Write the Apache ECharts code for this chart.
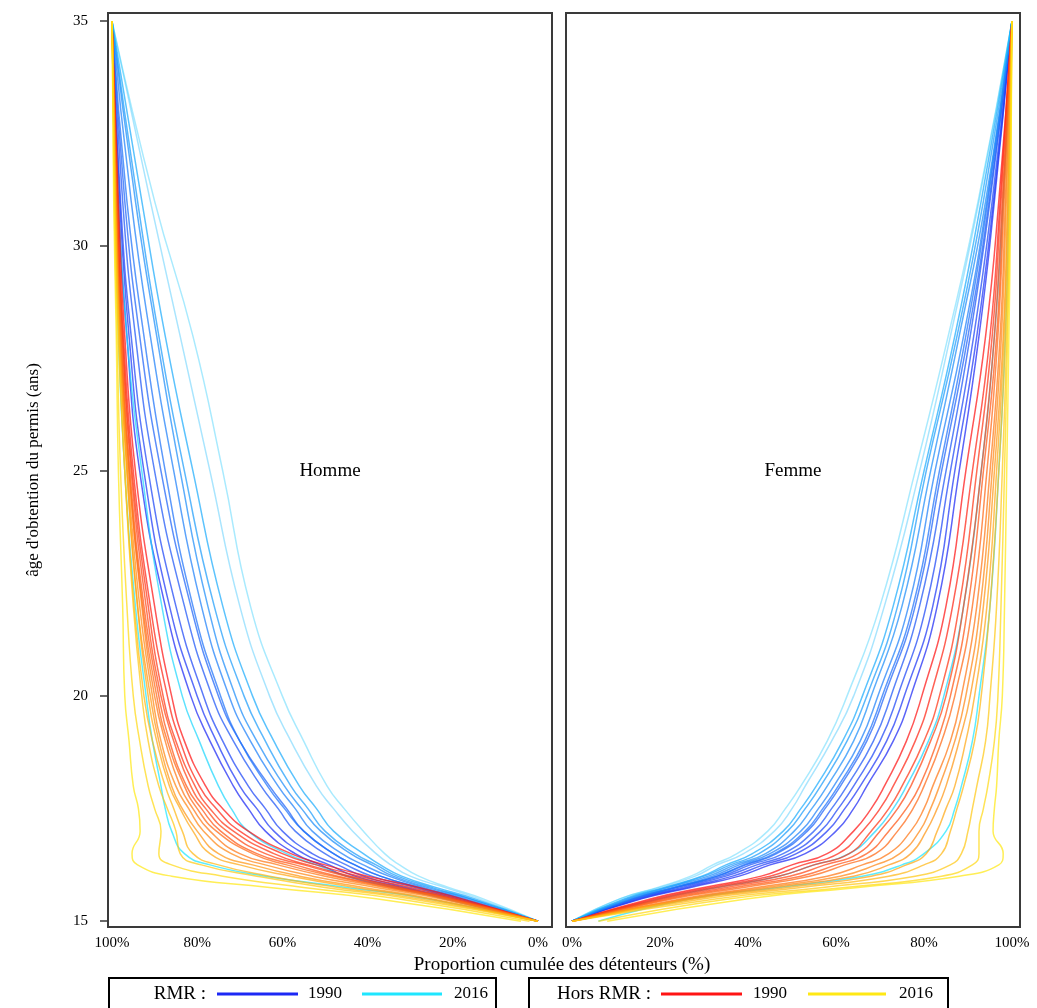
<!DOCTYPE html>
<html><head><meta charset="utf-8">
<script src="https://cdn.jsdelivr.net/npm/echarts@6/dist/echarts.min.js"></script>
<style>html,body{margin:0;padding:0;background:#fff}#c{width:1037px;height:1008px}</style>
</head><body><div id="c"></div>
<script>
// ---------- DATA ----------
const AGES = [15, 15.5, 15.75, 16, 16.25, 16.5, 17, 17.5, 18, 19, 20, 22, 25, 28, 31, 35];
const YEARS = [1990, 1992, 1994, 1996, 1998, 2000, 2002, 2004, 2006, 2008, 2010, 2012, 2014, 2016];
const X_TICKS = [0, 20, 40, 60, 80, 100];
const Y_TICKS = [15, 20, 25, 30, 35];

// Homme, RMR (cumulative % of licence holders at each age)
const hommeRMR = [
  [0, 22, 34, 45, 51, 57, 64, 68, 71.5, 77, 81.5, 87.5, 93.5, 96.5, 98.5, 100],
  [0, 21, 32, 43, 49, 55, 62, 66, 70, 75.5, 80, 86.5, 92.5, 96, 98.2, 100],
  [0, 20, 31, 41, 47, 53, 60, 64, 68, 74, 78.5, 85, 91.5, 95.5, 98, 100],
  [0, 19, 29, 39, 45, 50, 57, 61, 65, 71.5, 76.5, 83, 90, 94.5, 97.5, 100],
  [0, 18, 28, 37, 43, 48, 55, 59, 63, 70, 75, 81.5, 88.5, 93.5, 97, 100],
  [0, 18, 28, 37, 43, 48, 55, 59.5, 63.5, 70, 74.5, 81, 87.5, 92.5, 96.5, 100],
  [0, 17, 27, 35, 41, 46, 53, 57, 61, 67.5, 72.5, 79, 85.5, 91, 95.5, 100],
  [0, 16, 26, 34, 39, 44, 51, 55.5, 59.5, 66, 71, 77.5, 84, 89.5, 94.5, 100],
  [0, 16, 25, 33, 38, 43, 50, 54, 58, 64, 69, 76, 83, 89, 94, 100],
  [0, 15, 24, 32, 37, 41, 48, 52, 56, 62, 67, 74, 81, 87.5, 93, 100],
  [0, 14, 22, 30, 34.5, 38, 43.5, 48, 52, 58, 63, 70, 77, 84, 91, 100],
  [0, 13, 21, 28, 32.5, 36, 41, 45.5, 49.5, 55, 60, 67.5, 74, 81, 90, 100],
  [0, 20, 33, 45, 52, 59, 68, 72, 75, 79.5, 83.5, 88.3, 93, 96.5, 98.5, 100],
  [0, 26, 45, 64, 77, 83, 86, 87.5, 88.5, 90.5, 92, 94.5, 97, 98.5, 99.3, 100]
];
// Homme, Hors RMR
const hommeHors = [
  [0, 18, 28, 40, 50, 58, 68, 74, 78, 83, 86, 90, 94.5, 97, 98.5, 100],
  [0, 19, 30, 42, 52, 60, 70, 75.5, 79.5, 84, 87, 91, 95, 97.3, 98.7, 100],
  [0, 20, 32, 44, 54, 62, 71.5, 77, 80.5, 85, 88, 91.5, 95.3, 97.5, 98.8, 100],
  [0, 20, 33, 45, 55, 64, 73, 78, 81.5, 85.5, 88.5, 92, 95.5, 97.6, 98.8, 100],
  [0, 21, 34, 47, 57, 66, 74.5, 79, 82.5, 86.5, 89, 92.5, 95.8, 97.8, 98.9, 100],
  [0, 21, 35, 48, 59, 67, 75.5, 80, 83, 87, 89.5, 92.8, 96, 97.9, 99, 100],
  [0, 22, 36, 50, 61, 70, 77, 81, 84, 87.5, 90, 93, 96, 98, 99, 100],
  [0, 23, 38, 53, 64, 72, 78.5, 82, 85, 88.5, 90.5, 93.5, 96.3, 98.1, 99.1, 100],
  [0, 25, 41, 56, 67, 75, 80, 83.5, 86, 89, 91, 94, 96.5, 98.2, 99.2, 100],
  [0, 26, 43, 58, 70, 77, 81, 84, 86.5, 89.5, 91.5, 94, 96.5, 98.3, 99.2, 100],
  [0, 28, 47, 63, 75, 81, 83.5, 85.5, 87.5, 90.5, 92.5, 94.8, 97, 98.4, 99.3, 100],
  [0, 30, 50, 66, 79, 84, 85, 87, 89, 91.5, 93, 95, 97, 98.5, 99.3, 100],
  [2, 33, 55, 74, 86, 89, 88.5, 90, 91.5, 93.5, 95, 96.5, 98, 98.8, 99.5, 100],
  [4, 38, 63, 86, 94, 95.3, 93.4, 93.8, 95, 96, 97, 97.5, 98.5, 99, 99.6, 100]
];
// Femme, RMR
const femmeRMR = [
  [0, 16, 27, 38, 45, 53, 60, 64, 67, 73, 77, 83, 88, 92.5, 96, 100],
  [0, 15.5, 26, 36.5, 43.5, 51, 58, 62, 65.5, 71.5, 75.5, 82, 87, 92, 95.8, 100],
  [0, 15, 25, 35, 42, 49.5, 56.5, 60.5, 64, 70, 74, 80.5, 86, 91.3, 95.5, 100],
  [0, 14.5, 24, 34, 40.5, 48, 55, 59, 62.5, 68.5, 72.5, 79, 85, 90.5, 95, 100],
  [0, 14, 23.5, 33, 39.5, 46.5, 53.5, 57.5, 61, 67, 71, 78, 84, 90, 94.8, 100],
  [0, 14, 23.5, 33, 39, 46, 53, 57, 60.5, 66.5, 70.5, 77.5, 83.5, 89.5, 94.5, 100],
  [0, 13.5, 23, 32, 38, 45, 52, 56, 59.5, 65.5, 69.5, 76.5, 82.5, 89, 94.3, 100],
  [0, 13, 22, 31, 37, 44, 50.5, 54.5, 58, 64, 68, 75, 81.5, 88, 94, 100],
  [0, 12.5, 21.5, 30, 36, 42.5, 49, 53, 56.5, 62.5, 67, 74, 80.5, 87.5, 93.5, 100],
  [0, 12, 21, 29.5, 35, 41, 48, 52, 55.5, 61.5, 66, 73, 80, 87, 93, 100],
  [0, 11, 20, 28, 33, 39, 46, 50, 53, 59, 64, 71, 79, 86, 92.5, 100],
  [0, 11, 19.5, 27, 32, 37.5, 44.5, 48.5, 52, 58, 62.5, 70, 78, 85.5, 92.3, 100],
  [0, 20, 33, 47, 55, 63, 69, 73, 76, 81, 84.5, 89, 93, 96, 98, 100],
  [6, 27, 47, 66, 75, 80, 85, 87, 88.5, 91, 92.5, 95, 97, 98.5, 99.3, 100]
];
// Femme, Hors RMR
const femmeHors = [
  [0, 18, 30, 43, 50, 58, 64, 68, 71, 76, 79.5, 85, 89.5, 94, 97, 100],
  [0, 19, 31.5, 45, 52.5, 60.5, 66, 70, 73, 78, 81.5, 86.5, 91, 95, 97.3, 100],
  [0, 20, 33, 47, 55, 63, 68, 72, 75, 80, 83.5, 88, 92, 95.5, 97.5, 100],
  [0, 21, 35, 49.5, 57.5, 65, 70, 74, 77, 81.5, 85, 89, 93, 96, 97.8, 100],
  [0, 22, 37, 52, 60, 67, 72, 76, 79, 83, 86, 90, 93.5, 96.5, 98, 100],
  [0, 23, 39, 54, 62, 69, 74, 77.5, 80, 84, 87, 91, 94.3, 96.8, 98.2, 100],
  [0, 25, 42, 58, 66, 72, 77, 80, 82, 86, 88.5, 92, 95, 97.3, 98.5, 100],
  [0, 26, 44, 61, 69, 74.5, 79, 81.5, 83.5, 87, 89.5, 92.8, 95.5, 97.6, 98.7, 100],
  [0, 27, 46, 64, 72, 77, 80.5, 83, 85, 88, 90.5, 93.5, 96, 98, 99, 100],
  [0, 28, 49, 68, 76, 80.5, 83, 85, 87, 89.5, 91.5, 94.3, 96.5, 98.2, 99.1, 100],
  [0, 30, 52, 72, 80, 84, 86, 87.5, 89, 91.5, 93, 95, 97, 98.5, 99.3, 100],
  [0, 33, 57, 78, 86, 88.5, 90, 91, 92, 94, 95, 96.5, 97.8, 98.8, 99.5, 100],
  [6, 36, 62, 84, 91, 92.5, 92.5, 93.5, 94.5, 96, 96.8, 97.5, 98.3, 99, 99.6, 100],
  [8, 40, 65, 88, 97, 98, 95.7, 96, 96.5, 97, 97.8, 98.3, 98.8, 99.3, 99.7, 100]
];

// ---------- STYLE ----------
const FONT = 'Liberation Serif';
const C_BLUE = [28, 40, 245], C_CYAN = [30, 230, 255];
const C_RED = [255, 20, 20], C_YELLOW = [255, 232, 20];
function mix(a, b, t) {
  return 'rgb(' + a.map((v, k) => Math.round(v + (b[k] - v) * t)).join(',') + ')';
}
const rgb = c => 'rgb(' + c.join(',') + ')';

const series = [];
function addGroup(curves, gridIdx, c0, c1, label, paleIdx) {
  curves.forEach((vals, i) => {
    const t = i / (curves.length - 1);
    series.push({
      type: 'line',
      name: label + ' ' + YEARS[i],
      xAxisIndex: gridIdx, yAxisIndex: gridIdx,
      data: AGES.map((a, k) => [vals[k], a]),
      showSymbol: false, smooth: 0.5,
      lineStyle: { width: 1.5, color: mix(c0, c1, t), opacity: paleIdx.includes(i) ? 0.38 : 0.72 },
      emphasis: { disabled: true },
      silent: true
    });
  });
}
addGroup(hommeRMR, 0, C_BLUE, C_CYAN, 'RMR', [10, 11]);
addGroup(hommeHors, 0, C_RED, C_YELLOW, 'Hors RMR', []);
addGroup(femmeRMR, 1, C_BLUE, C_CYAN, 'RMR', [10, 11]);
addGroup(femmeHors, 1, C_RED, C_YELLOW, 'Hors RMR', []);

const labelStyle = { color: '#000', fontFamily: FONT, fontSize: 15 };
const gridBase = { top: 13, height: 914, show: true, borderColor: '#3a3a3a', borderWidth: 2, backgroundColor: '#fff' };

const txt = (text, x, y, size, align) => ({
  type: 'text', x: x, y: y, silent: true,
  style: { text: text, fill: '#000', font: size + 'px "' + FONT + '"', textAlign: align || 'center', textVerticalAlign: 'middle' }
});
const seg = (x1, x2, y, c) => ({ type: 'line', silent: true, shape: { x1: x1, y1: y, x2: x2, y2: y }, style: { stroke: c, lineWidth: 3 } });
const box = (x, y, w, h) => ({ type: 'rect', silent: true, shape: { x: x, y: y, width: w, height: h }, style: { fill: 'none', stroke: '#000', lineWidth: 2 } });

const option = {
  animation: false,
  backgroundColor: '#fff',
  grid: [
    Object.assign({ left: 108, width: 444 }, gridBase),
    Object.assign({ left: 566, width: 454 }, gridBase)
  ],
  xAxis: [
    { type: 'value', gridIndex: 0, inverse: true, min: -3.29, max: 100.94,
      axisLine: { show: false, onZero: false }, axisTick: { show: false }, splitLine: { show: false },
      axisLabel: Object.assign({ customValues: X_TICKS, formatter: '{value}%', margin: 9 }, labelStyle) },
    { type: 'value', gridIndex: 1, min: -1.36, max: 101.82,
      axisLine: { show: false, onZero: false }, axisTick: { show: false }, splitLine: { show: false },
      axisLabel: Object.assign({ customValues: X_TICKS, formatter: '{value}%', margin: 9 }, labelStyle) }
  ],
  yAxis: [
    { type: 'value', gridIndex: 0, position: 'left', min: 14.87, max: 35.18,
      name: "âge d'obtention du permis (ans)", nameLocation: 'middle', nameRotate: 90, nameGap: 66,
      nameTextStyle: { color: '#000', fontFamily: FONT, fontSize: 17 },
      axisLine: { show: false, onZero: false }, splitLine: { show: false },
      axisTick: { show: true, customValues: Y_TICKS, length: 8, lineStyle: { color: '#3a3a3a', width: 1.5 } },
      axisLabel: Object.assign({ customValues: Y_TICKS, margin: 20 }, labelStyle) },
    { type: 'value', gridIndex: 1, position: 'left', min: 14.87, max: 35.18,
      axisLine: { show: false, onZero: false }, splitLine: { show: false }, axisTick: { show: false }, axisLabel: { show: false } }
  ],
  series: series,
  graphic: [
    txt('Homme', 330, 471, 19),
    txt('Femme', 793, 471, 19),
    txt('Proportion cumulée des détenteurs (%)', 562, 965, 19),
    box(109, 978, 387, 42),
    txt('RMR :', 206, 994, 19, 'right'),
    seg(217, 298, 994, rgb(C_BLUE)),
    txt('1990', 325, 994, 17),
    seg(362, 442, 994, rgb(C_CYAN)),
    txt('2016', 471, 994, 17),
    box(529, 978, 419, 42),
    txt('Hors RMR :', 651, 994, 19, 'right'),
    seg(661, 742, 994, rgb(C_RED)),
    txt('1990', 770, 994, 17),
    seg(808, 886, 994, rgb(C_YELLOW)),
    txt('2016', 916, 994, 17)
  ]
};
echarts.init(document.getElementById('c')).setOption(option);
</script>
</body></html>
